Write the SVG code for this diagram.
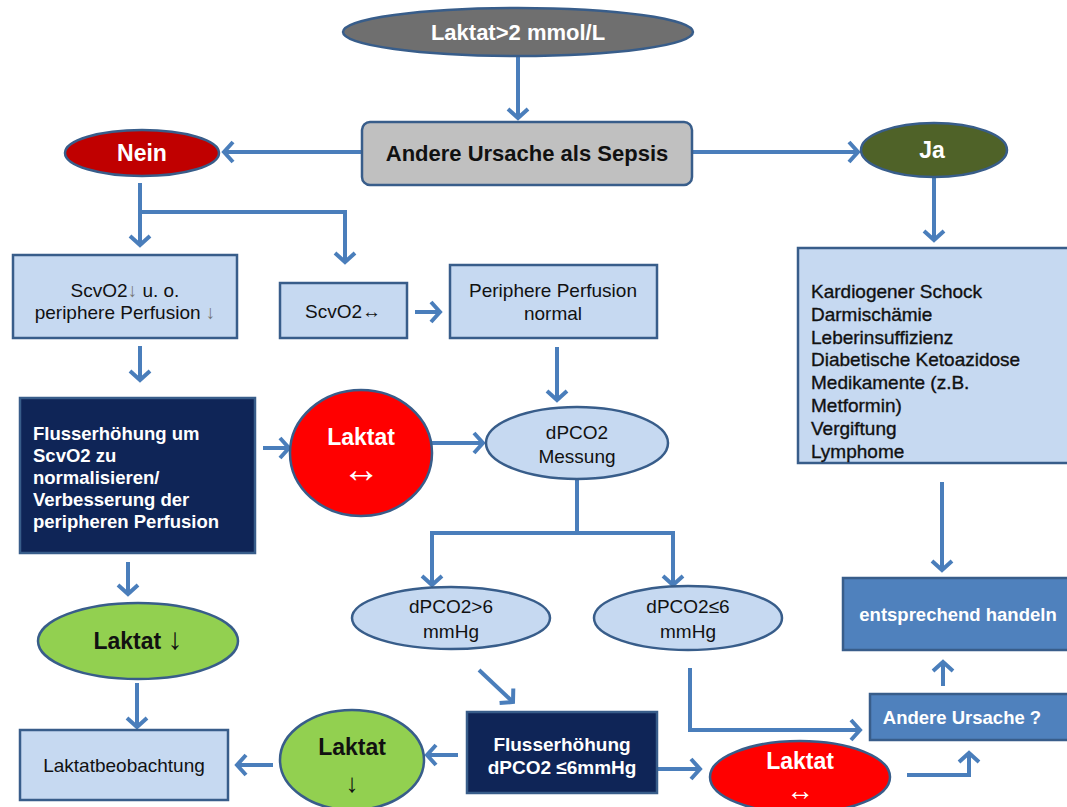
<svg xmlns="http://www.w3.org/2000/svg" width="1067" height="807" viewBox="0 0 1067 807">
<defs>
<marker id="ah" viewBox="0 0 14 24" markerWidth="14" markerHeight="24" refX="11" refY="12" orient="auto" markerUnits="userSpaceOnUse">
<path d="M2,2 L11,12 L2,22" fill="none" stroke="#4a7ebb" stroke-width="4"/>
</marker>
<style>
text{font-family:"Liberation Sans",Arial,sans-serif;text-anchor:middle}
.nd{stroke:#385d8a;stroke-width:2.5}
.lb{fill:#c6d9f1}
.nv{fill:#0f2557}
.mb{fill:#4f81bd}
.w{fill:#fff;font-weight:bold}
.k{fill:#111;font-size:19px}
.kb{fill:#111;font-weight:bold}
.c path{fill:none;stroke:#4a7ebb;stroke-width:4}
</style>
</defs>
<rect width="1067" height="807" fill="#fff"/>
<g class="c">
<path d="M518,57 V118" marker-end="url(#ah)"/>
<path d="M362,152 H224" marker-end="url(#ah)"/>
<path d="M693,152 H858" marker-end="url(#ah)"/>
<path d="M934,177 V240" marker-end="url(#ah)"/>
<path d="M140,183 V212 H345 V262" marker-end="url(#ah)"/>
<path d="M140,212 V245" marker-end="url(#ah)"/>
<path d="M140,346 V380" marker-end="url(#ah)"/>
<path d="M128,562 V594" marker-end="url(#ah)"/>
<path d="M137,683 V727" marker-end="url(#ah)"/>
<path d="M263,448 H289" marker-end="url(#ah)"/>
<path d="M432,443 H483" marker-end="url(#ah)"/>
<path d="M415,312 H440" marker-end="url(#ah)"/>
<path d="M557,347 V400" marker-end="url(#ah)"/>
<path d="M577,480 V533"/>
<path d="M577,533 H432 V585" marker-end="url(#ah)"/>
<path d="M577,533 H673 V585" marker-end="url(#ah)"/>
<path d="M479,670 L513,702" marker-end="url(#ah)"/>
<path d="M458,755 H427" marker-end="url(#ah)"/>
<path d="M273,765 H237" marker-end="url(#ah)"/>
<path d="M658,769 H700" marker-end="url(#ah)"/>
<path d="M690,668 V730 H860" marker-end="url(#ah)"/>
<path d="M907,775 H969 V753" marker-end="url(#ah)"/>
<path d="M943,686 V662" marker-end="url(#ah)"/>
<path d="M942,482 V570" marker-end="url(#ah)"/>
</g>
<g id="start"><ellipse class="nd" cx="518" cy="32" rx="175" ry="24" fill="#6f6f6f"/><text class="w" x="518" y="40" font-size="22">Laktat&gt;2 mmol/L</text></g>
<g id="andere"><rect class="nd" x="362" y="122" width="330" height="63" rx="8" fill="#c0c0c0"/><text class="kb" x="527" y="161" font-size="22">Andere Ursache als Sepsis</text></g>
<g id="nein"><ellipse class="nd" cx="142" cy="153" rx="77" ry="23" fill="#c00000"/><text class="w" x="142" y="161" font-size="23">Nein</text></g>
<g id="ja"><ellipse class="nd" cx="934" cy="150" rx="73" ry="27" fill="#4f6228"/><text class="w" x="932" y="158" font-size="23">Ja</text></g>
<g id="scvo2down"><rect class="nd lb" x="13" y="255" width="224" height="83"/><text class="k" x="125" y="297">ScvO2<tspan fill="#777">↓</tspan> u. o.</text><text class="k" x="125" y="319">periphere Perfusion <tspan fill="#777">↓</tspan></text></g>
<g id="scvo2norm"><rect class="nd lb" x="280" y="283" width="127" height="55"/><text class="k" x="343" y="318">ScvO2↔</text></g>
<g id="perfnorm"><rect class="nd lb" x="450" y="265" width="207" height="73"/><text class="k" x="553" y="297">Periphere Perfusion</text><text class="k" x="553" y="320">normal</text></g>
<g id="ursachen"><rect class="nd lb" x="798" y="248" width="275" height="215"/>
<g class="k" stroke="#111" stroke-width="0.35">
<text x="811" y="298" style="text-anchor:start">Kardiogener Schock</text>
<text x="811" y="321" style="text-anchor:start">Darmischämie</text>
<text x="811" y="344" style="text-anchor:start">Leberinsuffizienz</text>
<text x="811" y="366" style="text-anchor:start">Diabetische Ketoazidose</text>
<text x="811" y="389" style="text-anchor:start">Medikamente (z.B.</text>
<text x="811" y="412" style="text-anchor:start">Metformin)</text>
<text x="811" y="435" style="text-anchor:start">Vergiftung</text>
<text x="811" y="458" style="text-anchor:start">Lymphome</text>
</g></g>
<g id="fluss1"><rect class="nd nv" x="20" y="398" width="235" height="155"/>
<g class="w" font-size="18.5">
<text x="33" y="440" style="text-anchor:start">Flusserhöhung um</text>
<text x="33" y="462" style="text-anchor:start">ScvO2 zu</text>
<text x="33" y="484" style="text-anchor:start">normalisieren/</text>
<text x="33" y="506" style="text-anchor:start">Verbesserung der</text>
<text x="33" y="528" style="text-anchor:start">peripheren Perfusion</text>
</g></g>
<g id="laktat1"><ellipse class="nd" cx="361" cy="453" rx="71" ry="63" fill="#ff0000"/><text class="w" x="361" y="445" font-size="23">Laktat</text><text x="361" y="482" fill="#fff" font-size="38">↔</text></g>
<g id="dpco2"><ellipse class="nd lb" cx="577" cy="443" rx="91" ry="36"/><text class="k" x="577" y="439">dPCO2</text><text class="k" x="577" y="463">Messung</text></g>
<g id="laktatdown1"><ellipse class="nd" cx="138" cy="641" rx="100" ry="38" fill="#92d050"/><text class="kb" x="138" y="649" font-size="23">Laktat <tspan font-weight="normal" font-size="30">↓</tspan></text></g>
<g id="dpco2gt"><ellipse class="nd lb" cx="451" cy="618" rx="99" ry="31"/><text class="k" x="451" y="613">dPCO2&gt;6</text><text class="k" x="451" y="638">mmHg</text></g>
<g id="dpco2le"><ellipse class="nd lb" cx="688" cy="618" rx="94" ry="32"/><text class="k" x="688" y="613">dPCO2≤6</text><text class="k" x="688" y="638">mmHg</text></g>
<g id="handeln"><rect class="nd mb" x="843" y="578" width="230" height="72"/><text class="w" x="958" y="621" font-size="18.5">entsprechend handeln</text></g>
<g id="andere2"><rect class="nd mb" x="870" y="694" width="200" height="46"/><text class="w" x="962" y="724" font-size="18.5">Andere Ursache ?</text></g>
<g id="fluss2"><rect class="nd nv" x="467" y="712" width="190" height="81"/><text class="w" x="562" y="751" font-size="19">Flusserhöhung</text><text class="w" x="562" y="774" font-size="19">dPCO2 ≤6mmHg</text></g>
<g id="laktat2"><ellipse class="nd" cx="800" cy="777" rx="90" ry="36" fill="#ff0000"/><text class="w" x="800" y="769" font-size="23">Laktat</text><text x="800" y="800" fill="#fff" font-size="28">↔</text></g>
<g id="laktatdown2"><ellipse class="nd" cx="352" cy="760" rx="72" ry="50" fill="#92d050"/><text class="kb" x="352" y="755" font-size="23">Laktat</text><text x="352" y="792" fill="#111" font-size="26">↓</text></g>
<g id="beob"><rect class="nd lb" x="20" y="730" width="208" height="70"/><text class="k" x="124" y="772">Laktatbeobachtung</text></g>
</svg>
